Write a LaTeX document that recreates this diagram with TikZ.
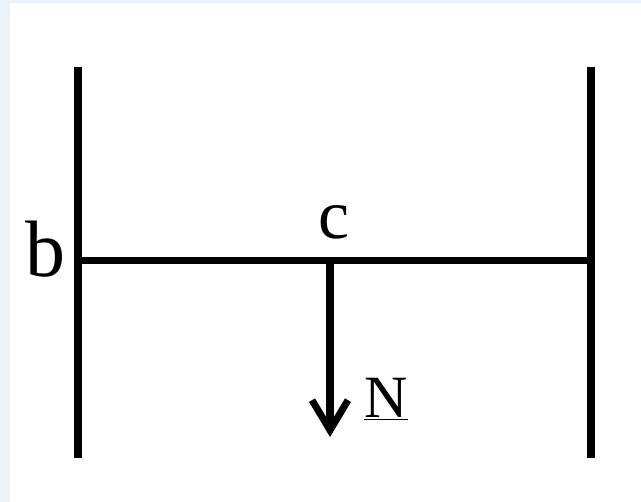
\documentclass[tikz,border=0pt]{standalone}
\usepackage{fontspec}
\setmainfont{Liberation Serif}
\usetikzlibrary{arrows.meta}
\definecolor{PaleBlue}{HTML}{EDF2FA}
\tikzset{
  wall/.style={line width=7.5pt,draw=black},
  beam/.style={line width=7pt,draw=black},
  force/.style={line width=7.5pt,draw=black,
    -{Straight Barb[length=30pt,width=36pt,line width=7pt]}},
  lbl/.style={inner sep=0pt,text=black},
}
\begin{document}
\begin{tikzpicture}[x=1pt,y=-1pt]
  \useasboundingbox (0,0) rectangle (641,502);
  \fill[PaleBlue] (0,0) rectangle (641,502);
  \fill[white] (10,3) rectangle (641,502);
  % walls
  \coordinate (lt) at (78,67);
  \coordinate (lb) at (78,458);
  \coordinate (rt) at (591,67);
  \coordinate (rb) at (591,458);
  \draw[wall] (lt) -- (lb);
  \draw[wall] (rt) -- (rb);
  % beam and load
  \coordinate (b) at (78,261);
  \coordinate (e) at (591,261);
  \coordinate (c) at (330,261);
  \coordinate (tip) at (330,437);
  \draw[beam] (b) -- (e);
  \draw[force] (c) -- (tip);
  \node[lbl,font=\fontsize{80}{80}\selectfont] (bl) at (45,249) {b};
  \node[lbl,font=\fontsize{70}{70}\selectfont] (cl) at (334,222) {c};
  \node[lbl,font=\fontsize{60}{60}\selectfont,anchor=base] (nl) at (386,418) {\underline{N}};
\end{tikzpicture}
\end{document}
